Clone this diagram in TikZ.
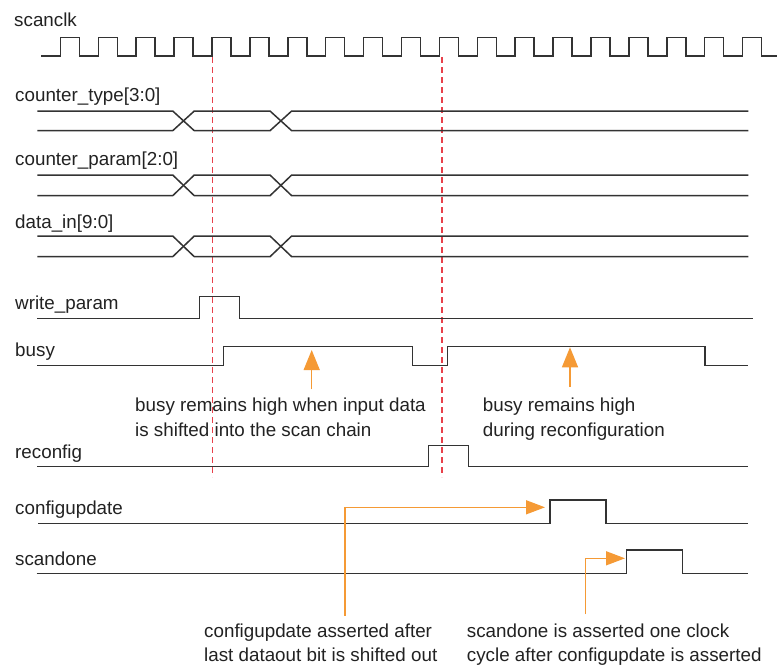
\documentclass[tikz,border=0pt]{standalone}
\usepackage{fontspec}
\setmainfont{Liberation Sans}
\usetikzlibrary{arrows.meta}
\definecolor{wave}{HTML}{333333}
\definecolor{txt}{HTML}{222222}
\definecolor{markred}{HTML}{E8404A}
\definecolor{ann}{HTML}{F59A35}
\tikzset{
  sig/.style={draw=wave, line width=1.5pt, line join=miter},
  lbl/.style={anchor=base west, inner sep=0pt, text=txt, font=\fontsize{18.8}{22}\selectfont},
  markline/.style={draw=markred, line width=1.6pt, dash pattern=on 6pt off 4pt},
  annarrow/.style={draw=ann, line width=1.4pt, -{Triangle[length=20pt,width=16pt]}},
  annarrowb/.style={draw=ann, line width=1.4pt, -{Triangle[length=19pt,width=14pt]}}
}
\begin{document}
\begin{tikzpicture}[x=1pt,y=-1pt]
\useasboundingbox[fill=white] (0,0) rectangle (778,665);

% labels
\node[lbl] (l1) at (14,26) {scanclk};
\node[lbl] (l2) at (15,101.5) {counter\_type[3:0]};
\node[lbl] (l3) at (15,165.5) {counter\_param[2:0]};
\node[lbl] (l4) at (15,228) {data\_in[9:0]};
\node[lbl] (l5) at (15,309.5) {write\_param};
\node[lbl] (l6) at (15,356.5) {busy};
\node[lbl] (l7) at (15,458.5) {reconfig};
\node[lbl] (l8) at (15,514) {configupdate};
\node[lbl] (l9) at (15,565) {scandone};

% red dashed markers
\coordinate (m1t) at (212.3,57);
\coordinate (m1b) at (212.3,477);
\coordinate (m2t) at (441.7,57);
\coordinate (m2b) at (441.7,477);
\draw[markline] (m1t) -- (m1b);
\draw[markline] (m2t) -- (m2b);

% scanclk
\draw[sig] (41,56)
  \foreach \k in {0,...,18} {
    -- ({60.4+37.9*\k},56) -- ({60.4+37.9*\k},37.7) -- ({79.4+37.9*\k},37.7) -- ({79.4+37.9*\k},56)
  } -- (777,56);

% buses
\foreach \t/\b in {111/130.7, 175/195.7, 236/256.7} {
  \draw[sig] (37.3,\t) -- (172.7,\t) -- (194.3,\b) -- (270,\b) -- (291.7,\t) -- (748.3,\t);
  \draw[sig] (37.3,\b) -- (172.7,\b) -- (194.3,\t) -- (270,\t) -- (291.7,\b) -- (748.3,\b);
}

% write_param
\draw[sig] (37.3,318.3) -- (199.3,318.3) -- (199.3,296.7) -- (239.3,296.7) -- (239.3,318.3) -- (752.7,318.3);
% busy
\draw[sig] (37.3,365.7) -- (223.3,365.7) -- (223.3,346.7) -- (412.3,346.7) -- (412.3,365.7) -- (447.7,365.7) -- (447.7,346.7) -- (705,346.7) -- (705,365.7) -- (748.3,365.7);
% reconfig
\draw[sig] (37.3,466.7) -- (428.3,466.7) -- (428.3,445.7) -- (468.3,445.7) -- (468.3,466.7) -- (748.3,466.7);
% configupdate
\draw[sig] (38.3,523.3) -- (550,523.3) -- (550,500) -- (606,500) -- (606,523.3) -- (748.3,523.3);
% scandone
\draw[sig] (36.7,573.3) -- (626.7,573.3) -- (626.7,550) -- (682.3,550) -- (682.3,573.3) -- (748.3,573.3);

% annotations
\node[lbl] (a1a) at (135,411.5) {busy remains high when input data};
\node[lbl] (a1b) at (135,436) {is shifted into the scan chain};
\node[lbl] (a2a) at (482.7,411) {busy remains high};
\node[lbl] (a2b) at (482.7,436) {during reconfiguration};
\node[lbl] (a3a) at (204,637.3) {configupdate asserted after};
\node[lbl] (a3b) at (204,661.5) {last dataout bit is shifted out};
\node[lbl] (a4a) at (466.7,637.3) {scandone is asserted one clock};
\node[lbl] (a4b) at (466.7,661.5) {cycle after configupdate is asserted};

\coordinate (b1s) at (311.7,389.3);
\coordinate (b1e) at (311.7,350);
\coordinate (b2s) at (570,386.7);
\coordinate (b2e) at (570,347.3);
\coordinate (c1s) at (345,615.7);
\coordinate (c1e) at (545,507.3);
\coordinate (c2s) at (585.7,614);
\coordinate (c2e) at (625,558.3);
\draw[annarrow] (b1s) -- (b1e);
\draw[annarrow] (b2s) -- (b2e);
\draw[annarrowb] (c1s) |- (c1e);
\draw[annarrowb] (c2s) |- (c2e);
\end{tikzpicture}
\end{document}
